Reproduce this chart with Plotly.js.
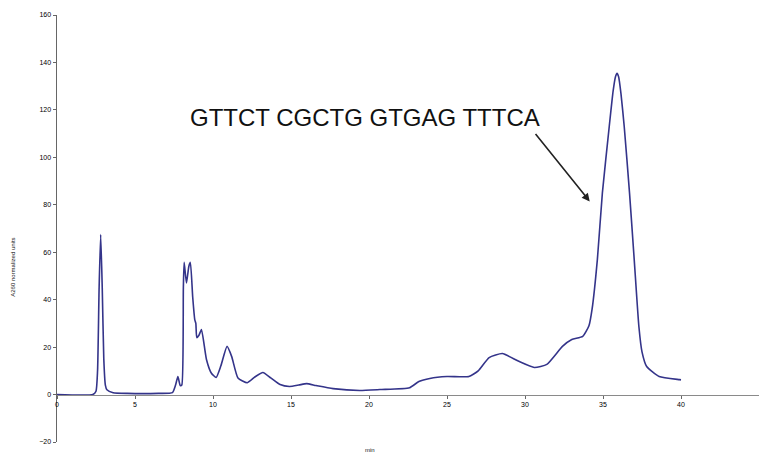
<!DOCTYPE html>
<html>
<head>
<meta charset="utf-8">
<script src="https://cdn.plot.ly/plotly-3.0.1.min.js"></script>
<style>html,body{margin:0;padding:0;background:#fff;}#chart{width:759px;height:462px;}</style>
</head>
<body>
<div id="chart"></div>
<script>
// Elution time (min)
const timeMin = [0, 2.3, 2.5, 2.6, 2.7, 2.8, 2.9, 3.0, 3.1, 3.2, 3.6, 4.5, 6.5, 7.4, 7.6, 7.75, 7.9, 8.0, 8.1, 8.15, 8.3, 8.45, 8.55, 8.7, 8.83, 8.9, 8.96, 9.1, 9.26, 9.58, 9.9, 10.2, 10.5, 10.9, 11.2, 11.6, 12.2, 12.7, 13.2, 13.7, 14.3, 14.9, 15.5, 16.0, 16.6, 17.7, 19.4, 20.7, 22.6, 23.2, 23.9, 25, 26.4, 27, 27.7, 28.55, 29.6, 30.6, 31.4, 32.4, 33, 33.7, 34.1, 34.3, 34.64, 34.96, 35.4, 35.65, 35.8, 35.9, 36.0, 36.15, 36.36, 36.7, 37.0, 37.3, 37.5, 37.8, 38.6, 39.9, 40];
// A260 normalized units
const a260 = [0, 0, 1.4, 10, 45, 67.5, 45, 15, 4, 2, 0.8, 0.5, 0.5, 0.8, 4, 7.6, 3.8, 4, 45, 55.7, 47, 54, 55.7, 41, 31.6, 30, 24, 25, 27.4, 14.8, 9, 7.2, 12, 20.3, 16, 7, 5, 7.5, 9.3, 7, 4.2, 3.4, 4, 4.6, 3.8, 2.5, 1.7, 2.1, 2.9, 5.5, 6.8, 7.6, 7.6, 10, 15.6, 17.3, 14, 11.4, 12.7, 20.3, 23.2, 24.5, 29, 36, 57, 85, 113, 128, 134, 135.4, 134, 127, 113, 85, 57, 28.7, 18, 11.8, 7.6, 6.3, 6.2];
const peakLabel = "GTTCT CGCTG GTGAG TTTCA";
const xTitle = "min";
const yTitle = "A260 normalized units";

const trace = {
  x: timeMin, y: a260, type: 'scatter', mode: 'lines',
  line: {color: '#34348a', width: 1.6, shape: 'spline', smoothing: 0.5},
  hoverinfo: 'x+y'
};

const layout = {
  width: 759, height: 462,
  margin: {l: 57, r: 0, t: 15, b: 20},
  paper_bgcolor: '#fff', plot_bgcolor: '#fff',
  showlegend: false,
  font: {family: 'Liberation Sans, Arial, sans-serif', color: '#000'},
  xaxis: {
    range: [0, 45], dtick: 5, tick0: 0,
    anchor: 'free', position: 20/180,
    showline: true, linecolor: '#8a8a8a', linewidth: 1.5,
    ticks: 'outside', ticklen: 3, tickcolor: '#666', tickwidth: 1,
    showgrid: false, zeroline: false,
    tickfont: {size: 7, color: '#000'}
  },
  yaxis: {
    range: [-20, 160], dtick: 20, tick0: 0,
    showline: true, linecolor: '#666', linewidth: 1.5,
    ticks: 'outside', ticklen: 3, tickcolor: '#666',
    showgrid: false, zeroline: false,
    tickfont: {size: 7, color: '#000'}
  },
  annotations: [
    {x: 19.75, y: 116.8, xref: 'x', yref: 'y', text: peakLabel, showarrow: false,
     font: {size: 24, color: '#111', family: 'Liberation Sans, Arial, sans-serif'}},
    {x: 34.15, y: 81.4, ax: 30.6, ay: 110.5, xref: 'x', yref: 'y', axref: 'x', ayref: 'y',
     text: '', showarrow: true, arrowhead: 2, arrowsize: 1, arrowwidth: 1.6, arrowcolor: '#222'},
    {x: (370-57)/702, y: -0.03, xref: 'paper', yref: 'paper', text: xTitle, showarrow: false,
     font: {size: 6, color: '#111'}},
    {x: -0.07, y: 0.41, xref: 'paper', yref: 'paper', text: yTitle, showarrow: false, textangle: -90,
     font: {size: 6, color: '#111'}}
  ]
};

Plotly.newPlot('chart', [trace], layout, {displayModeBar: false, staticPlot: true});
</script>
</body>
</html>
